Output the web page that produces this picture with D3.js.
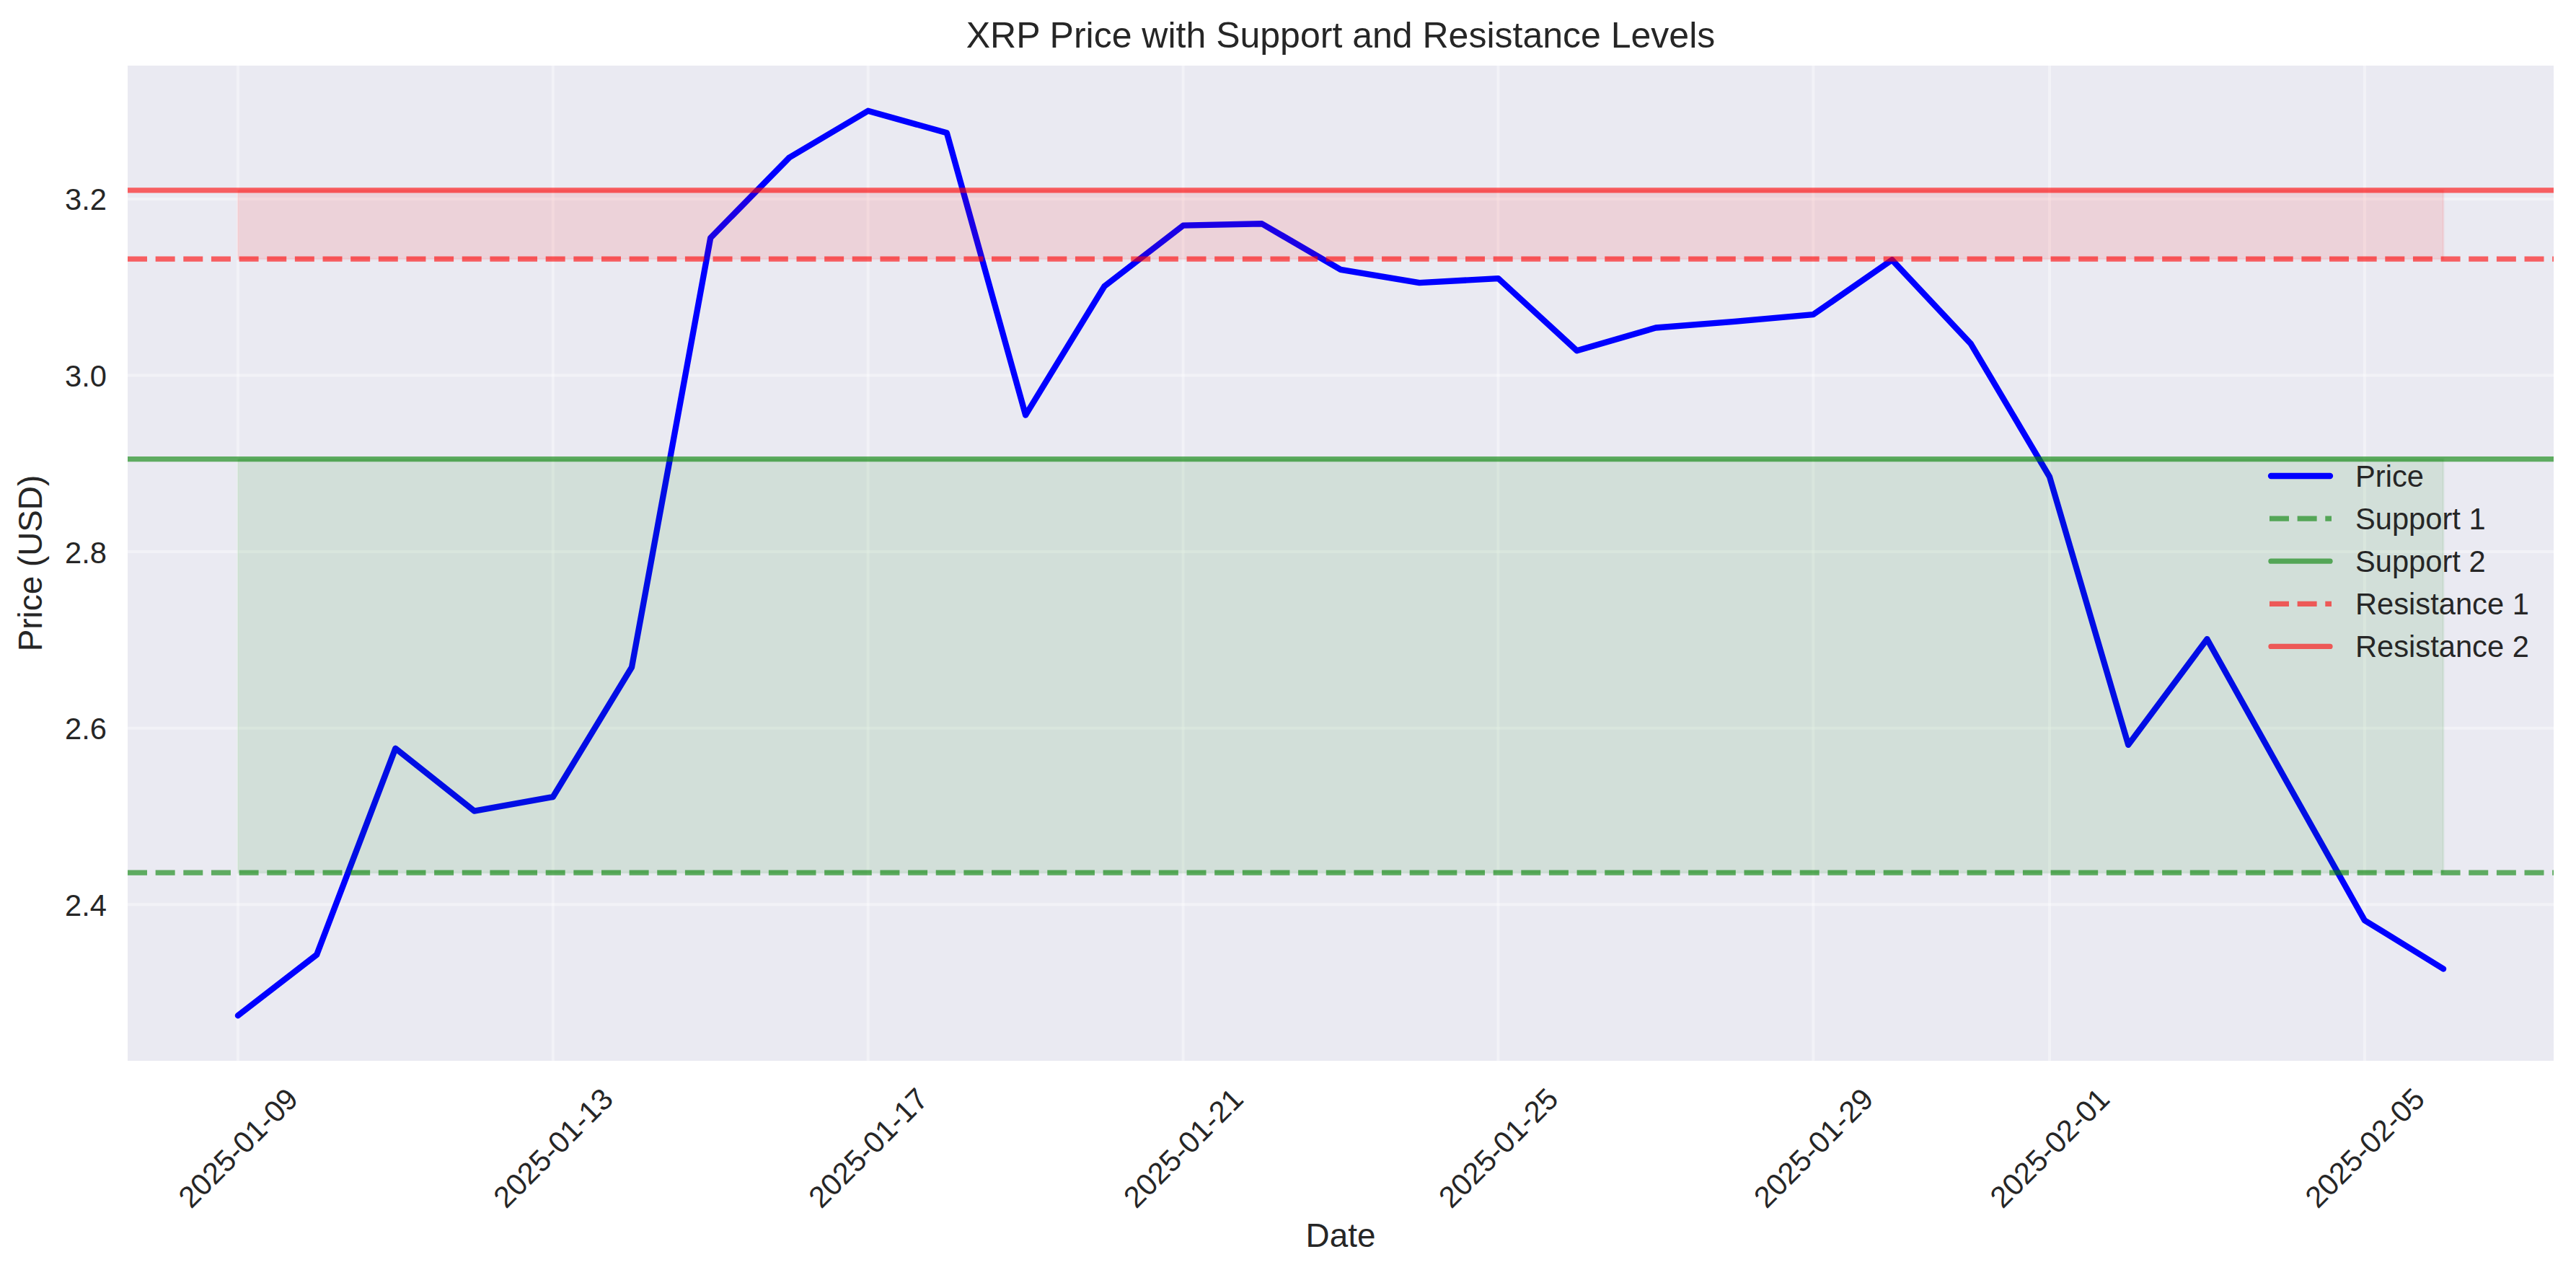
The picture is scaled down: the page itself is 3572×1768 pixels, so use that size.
<!DOCTYPE html>
<html>
<head>
<meta charset="utf-8">
<script src="https://cdn.jsdelivr.net/npm/d3@7"></script>
<style>
  html, body { margin: 0; padding: 0; background: #ffffff; }
  svg { display: block; }
  text { font-family: "Liberation Sans", Arial, "DejaVu Sans", sans-serif; fill: #262626; }
</style>
</head>
<body>
<script>
// ---- data ----
const dates = [
  "2025-01-09","2025-01-10","2025-01-11","2025-01-12","2025-01-13","2025-01-14","2025-01-15",
  "2025-01-16","2025-01-17","2025-01-18","2025-01-19","2025-01-20","2025-01-21","2025-01-22",
  "2025-01-23","2025-01-24","2025-01-25","2025-01-26","2025-01-27","2025-01-28","2025-01-29",
  "2025-01-30","2025-01-31","2025-02-01","2025-02-02","2025-02-03","2025-02-04","2025-02-05",
  "2025-02-06"
];
const prices = [
  2.274, 2.343, 2.577, 2.506, 2.522, 2.669, 3.156,
  3.247, 3.300, 3.275, 2.955, 3.101, 3.170, 3.172,
  3.120, 3.105, 3.110, 3.028, 3.054, 3.061, 3.069,
  3.131, 3.036, 2.885, 2.581, 2.701, 2.541, 2.382,
  2.327
];
const levelNames = ["Support 1", "Support 2", "Resistance 1", "Resistance 2"];
const levelValues = [2.436, 2.905, 3.132, 3.210];
const xTickLabels = ["2025-01-09","2025-01-13","2025-01-17","2025-01-21","2025-01-25","2025-01-29","2025-02-01","2025-02-05"];
const yTickLabels = ["2.4", "2.6", "2.8", "3.0", "3.2"];
const titleText = "XRP Price with Support and Resistance Levels";
const xLabelText = "Date";
const yLabelText = "Price (USD)";

// ---- layout ----
const W = 3572, H = 1768;
const M = { left: 177, right: 3541, top: 91, bottom: 1471 };
const PT = 300 / 72;

const parse = d3.utcParse("%Y-%m-%d");
const pts = dates.map((d, i) => ({ date: parse(d), price: prices[i] }));

const dExt = d3.extent(pts, d => d.date.getTime());
const dPad = (dExt[1] - dExt[0]) * 0.05;
const x = d3.scaleUtc()
  .domain([new Date(dExt[0] - dPad), new Date(dExt[1] + dPad)])
  .range([M.left, M.right]);

const yExt = d3.extent(prices.concat(levelValues));
const yPad = (yExt[1] - yExt[0]) * 0.05;
const y = d3.scaleLinear()
  .domain([yExt[0] - yPad, yExt[1] + yPad])
  .range([M.bottom, M.top]);

const svg = d3.select("body").append("svg")
  .attr("width", W).attr("height", H)
  .attr("viewBox", `0 0 ${W} ${H}`);

svg.append("rect").attr("x", 0).attr("y", 0).attr("width", W).attr("height", H).attr("fill", "#ffffff");

// axes background
svg.append("rect")
  .attr("x", M.left).attr("y", M.top)
  .attr("width", M.right - M.left).attr("height", M.bottom - M.top)
  .attr("fill", "#EAEAF2");

const clip = svg.append("clipPath").attr("id", "plotclip").append("rect")
  .attr("x", M.left).attr("y", M.top)
  .attr("width", M.right - M.left).attr("height", M.bottom - M.top);

// grid
const grid = svg.append("g").attr("clip-path", "url(#plotclip)");
const xTickDates = xTickLabels.map(parse);
const yTickVals = yTickLabels.map(Number);
grid.selectAll("line.gx").data(xTickDates).enter().append("line")
  .attr("x1", d => x(d)).attr("x2", d => x(d))
  .attr("y1", M.top).attr("y2", M.bottom)
  .attr("stroke", "#ffffff").attr("stroke-opacity", 0.4).attr("stroke-width", 4);
grid.selectAll("line.gy").data(yTickVals).enter().append("line")
  .attr("x1", M.left).attr("x2", M.right)
  .attr("y1", d => y(d)).attr("y2", d => y(d))
  .attr("stroke", "#ffffff").attr("stroke-opacity", 0.4).attr("stroke-width", 4);

const plot = svg.append("g").attr("clip-path", "url(#plotclip)");

// price line
const line = d3.line().x(d => x(d.date)).y(d => y(d.price));
plot.append("path").datum(pts)
  .attr("d", line)
  .attr("fill", "none")
  .attr("stroke", "#0000ff")
  .attr("stroke-width", 2 * PT)
  .attr("stroke-linejoin", "round")
  .attr("stroke-linecap", "round");

// level lines
const levelColors = ["#008000", "#008000", "#ff0000", "#ff0000"];
const levelDash = [true, false, true, false];
const dashArr = `${6.475 * 1.75 / 1.75 * PT * 1.0},${2.8 * PT}`;
levelValues.forEach((v, i) => {
  plot.append("line")
    .attr("x1", M.left).attr("x2", M.right)
    .attr("y1", y(v)).attr("y2", y(v))
    .attr("stroke", levelColors[i])
    .attr("stroke-opacity", 0.6)
    .attr("stroke-width", 1.75 * PT)
    .attr("stroke-dasharray", levelDash[i] ? dashArr : null);
});

// fills between levels across the date range
const area = d3.area().x(d => x(d.date));
const zones = [
  { lo: levelValues[0], hi: levelValues[1], color: "#008000" },
  { lo: levelValues[2], hi: levelValues[3], color: "#ff0000" }
];
zones.forEach(z => {
  const a = d3.area().x(d => x(d.date)).y0(() => y(z.lo)).y1(() => y(z.hi));
  plot.append("path").datum([pts[0], pts[pts.length - 1]])
    .attr("d", a)
    .attr("fill", z.color).attr("fill-opacity", 0.1)
    .attr("stroke", z.color).attr("stroke-opacity", 0.06).attr("stroke-width", 3);
});

// y axis
const yAxis = d3.axisLeft(y).tickValues(yTickVals).tickFormat(d3.format(".1f")).tickSize(0).tickPadding(0);
const gy = svg.append("g").attr("transform", `translate(${M.left - 29},0)`).call(yAxis);
gy.select(".domain").remove();
gy.selectAll("text")
  .attr("font-size", 10 * PT)
  .attr("fill", "#262626")
  .attr("x", 0)
  .attr("dy", null)
  .attr("y", 0.716 * 10 * PT / 2)
  .style("font-family", "'Liberation Sans', Arial, sans-serif");

// x axis
const xAxis = d3.axisBottom(x).tickValues(xTickDates).tickFormat(d3.utcFormat("%Y-%m-%d")).tickSize(0).tickPadding(0);
const gx = svg.append("g").attr("transform", `translate(0,${M.bottom})`).call(xAxis);
gx.select(".domain").remove();
gx.selectAll("text")
  .attr("font-size", 10 * PT)
  .attr("fill", "#262626")
  .attr("y", 0).attr("dy", null)
  .attr("text-anchor", "middle")
  .attr("transform", "translate(0,121) rotate(-45) translate(0,14)")
  .style("font-family", "'Liberation Sans', Arial, sans-serif");

// labels
svg.append("text")
  .attr("x", (M.left + M.right) / 2).attr("y", 66)
  .attr("text-anchor", "middle").attr("font-size", 12 * PT)
  .text(titleText);
svg.append("text")
  .attr("x", (M.left + M.right) / 2).attr("y", 1729)
  .attr("text-anchor", "middle").attr("font-size", 11 * PT)
  .text(xLabelText);
svg.append("text")
  .attr("transform", `translate(58,${(M.top + M.bottom) / 2}) rotate(-90)`)
  .attr("text-anchor", "middle").attr("font-size", 11 * PT)
  .text(yLabelText);

// legend
const legendItems = [{ name: "Price", color: "#0000ff", opacity: 1, width: 2 * PT, dash: false }]
  .concat(levelNames.map((n, i) => ({ name: n, color: levelColors[i], opacity: 0.6, width: 1.75 * PT, dash: levelDash[i] })));
const lg = svg.append("g");
const rowY0 = 660, rowStep = 59.1;
const hx0 = 3147, hx1 = 3233, tx = 3266;
legendItems.forEach((it, i) => {
  const yy = rowY0 + i * rowStep;
  lg.append("line")
    .attr("x1", it.dash ? hx0 : hx0 + 2).attr("x2", it.dash ? hx1 : hx1 - 2)
    .attr("y1", yy).attr("y2", yy)
    .attr("stroke", it.color).attr("stroke-opacity", it.opacity)
    .attr("stroke-width", it.width)
    .attr("stroke-linecap", it.dash ? "butt" : "round")
    .attr("stroke-dasharray", it.dash ? dashArr : null);
  lg.append("text")
    .attr("x", tx).attr("y", yy + 0.716 * 10 * PT / 2)
    .attr("font-size", 10 * PT)
    .text(it.name);
});
</script>
</body>
</html>
